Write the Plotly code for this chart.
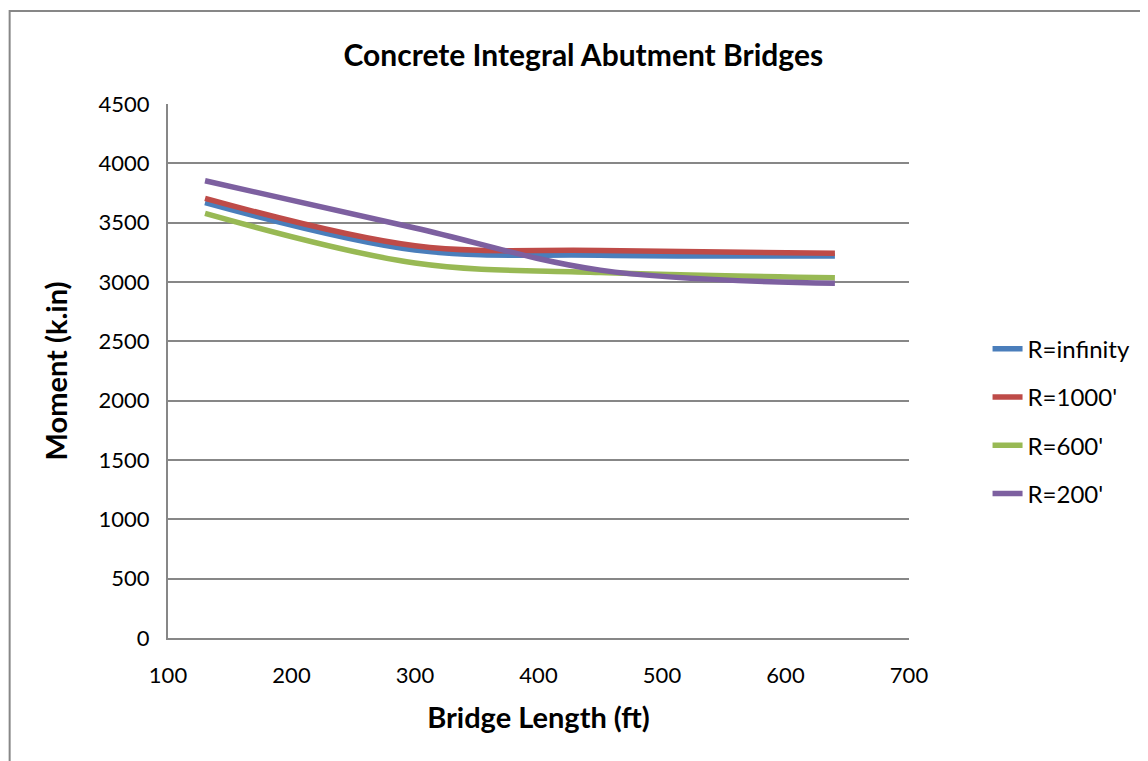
import plotly.graph_objects as go

# bridge lengths (ft) at which the moments were computed
bridge_length = [130, 300, 450, 640]

# moment (k.in) for each curve radius
r_infinity = [3670, 3270, 3225, 3220]
r_1000 = [3705, 3305, 3265, 3242]
r_600 = [3578, 3160, 3080, 3035]
r_200 = [3853, 3455, 3100, 2990]

series_names = ["R=infinity", "R=1000'", "R=600'", "R=200'"]
series_values = [r_infinity, r_1000, r_600, r_200]
series_colors = ["#4A7EBB", "#BE4B48", "#98B954", "#7D60A0"]

FONT = "Lato"
GRID = "#878787"

fig = go.Figure()
for name, vals, color in zip(series_names, series_values, series_colors):
    fig.add_trace(go.Scatter(
        x=bridge_length, y=vals, name=name, mode="lines",
        line=dict(color=color, width=5.5, shape="spline", smoothing=1.0),
        legendgroup=name,
    ))

fig.update_layout(
    width=1140, height=753,
    margin=dict(l=160, r=236, t=96, b=123),
    paper_bgcolor="white", plot_bgcolor="white",
    font=dict(family=FONT, color="black", size=22),
    title=dict(text="<b>Concrete Integral Abutment Bridges</b>",
               x=0.5605, xref="paper", xanchor="center",
               y=1 - 47 / 753, yanchor="middle", yref="container",
               font=dict(size=30, family=FONT)),
    showlegend=True,
    legend=dict(x=1.106, xanchor="left", y=0.406, yanchor="middle",
                font=dict(size=24, family=FONT), tracegroupgap=14,
                traceorder="grouped", bgcolor="rgba(0,0,0,0)"),
    shapes=[dict(type="rect", xref="paper", yref="paper",
                 x0=(1 - 160) / 744, x1=1.5, y0=-0.5, y1=(630 - 3) / 534,
                 line=dict(color=GRID, width=2), layer="below")],
)

fig.update_xaxes(
    range=[100, 700], dtick=100, showgrid=False, zeroline=False,
    showline=True, linecolor=GRID, linewidth=2,
    ticks="", ticklabelstandoff=17, tickfont=dict(size=22),
    title=dict(text="<b>Bridge Length (ft)</b>", font=dict(size=29), standoff=20),
)
fig.update_yaxes(
    range=[0, 4500], dtick=500, showgrid=True, gridcolor=GRID, gridwidth=2,
    zeroline=False, showline=True, linecolor=GRID, linewidth=2,
    ticks="", ticklabelstandoff=12, tickfont=dict(size=22),
    title=dict(text="<b>Moment (k.in)</b>", font=dict(size=29), standoff=22),
)

fig.write_html("out.html")
